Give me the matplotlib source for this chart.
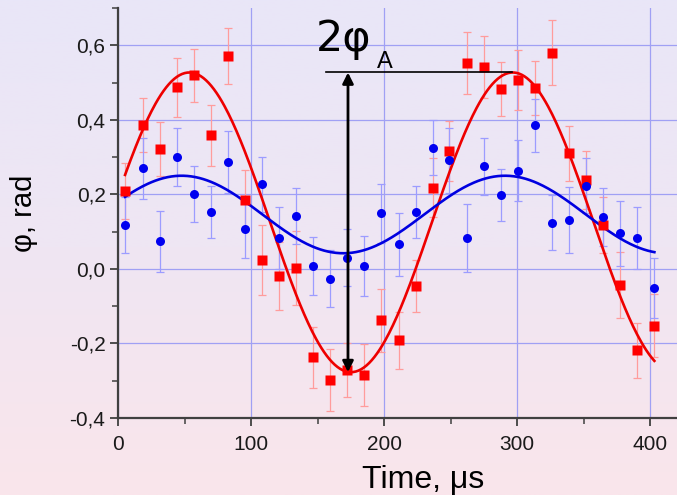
import numpy as np
import matplotlib
matplotlib.use("Agg")
import matplotlib.pyplot as plt
from matplotlib.ticker import FuncFormatter, MultipleLocator
from matplotlib.colors import LinearSegmentedColormap

plt.rcParams['font.family'] = ['Liberation Sans', 'DejaVu Sans']

# ---- data ----
time_us = [5.3, 18.8, 31.6, 44.3, 57.3, 69.9, 82.6, 95.4, 108.4, 121.2, 134.0,
           146.8, 159.5, 172.0, 185.0, 197.8, 211.0, 223.6, 236.4, 249.0, 262.0,
           275.0, 287.8, 300.5, 313.3, 325.8, 338.8, 351.8, 364.4, 377.2, 389.9, 402.7]

red_phi = [0.209, 0.386, 0.321, 0.487, 0.519, 0.358, 0.572, 0.185, 0.024, -0.019,
           0.002, -0.237, -0.299, -0.272, -0.284, -0.138, -0.192, -0.046, 0.218, 0.316,
           0.552, 0.541, 0.482, 0.506, 0.485, 0.580, 0.310, 0.239, 0.118, -0.043,
           -0.218, -0.152]
red_err = [0.075, 0.073, 0.073, 0.079, 0.071, 0.082, 0.075, 0.080, 0.093, 0.092,
           0.100, 0.082, 0.083, 0.072, 0.083, 0.085, 0.076, 0.070, 0.080, 0.080,
           0.083, 0.083, 0.073, 0.080, 0.073, 0.087, 0.074, 0.077, 0.075, 0.088,
           0.074, 0.084]

blue_phi = [0.118, 0.270, 0.074, 0.300, 0.200, 0.152, 0.288, 0.108, 0.227, 0.083,
            0.143, 0.007, -0.026, 0.030, 0.007, 0.149, 0.066, 0.153, 0.325, 0.291,
            0.083, 0.275, 0.199, 0.264, 0.386, 0.124, 0.131, 0.223, 0.139, 0.095,
            0.084, -0.052]
blue_err = [0.075, 0.082, 0.082, 0.077, 0.075, 0.070, 0.083, 0.080, 0.073, 0.084,
            0.075, 0.078, 0.076, 0.076, 0.080, 0.080, 0.084, 0.070, 0.074, 0.086,
            0.092, 0.076, 0.070, 0.081, 0.071, 0.074, 0.089, 0.074, 0.077, 0.086,
            0.083, 0.080]

# sinusoidal fit parameters (offset, amplitude, period, time of maximum)
red_fit = dict(offset=0.125, amp=0.402, period=243.0, t_max=53.6)
blue_fit = dict(offset=0.146, amp=0.104, period=243.0, t_max=47.8)
fit_range = (5.3, 403.0)

x_ticks = [0, 100, 200, 300, 400]
y_ticks = [-0.4, -0.2, 0.0, 0.2, 0.4, 0.6]

# arrow marking 2*phi_A
arrow_x = 172.8
arrow_top = 0.527
arrow_bottom = -0.277
hline_x = (156.3, 296.0)


def fit_curve(p, t):
    return p['offset'] + p['amp'] * np.cos(2 * np.pi * (t - p['t_max']) / p['period'])


W, H = 677, 495
fig = plt.figure(figsize=(W / 100, H / 100), dpi=100)

# background gradient (lavender top -> pink bottom)
bg = fig.add_axes([0, 0, 1, 1], zorder=-10)
cmap = LinearSegmentedColormap.from_list('bg', ['#FAE5EB', '#EFE6F3', '#E9E6F8'])
bg.imshow(np.linspace(0, 1, 256).reshape(-1, 1), aspect='auto', cmap=cmap,
          origin='lower', extent=[0, 1, 0, 1])
bg.set_axis_off()

ax = fig.add_axes([118 / W, (H - 418) / H, (W - 118) / W, (418 - 8) / H])
ax.set_facecolor('none')
ax.set_xlim(0, 420)
ax.set_ylim(-0.4, 0.7)

ax.xaxis.set_major_locator(MultipleLocator(100))
ax.xaxis.set_minor_locator(MultipleLocator(50))
ax.yaxis.set_major_locator(MultipleLocator(0.2))
ax.yaxis.set_minor_locator(MultipleLocator(0.1))
ax.set_xticks(x_ticks)
ax.set_yticks(y_ticks)
ax.yaxis.set_major_formatter(FuncFormatter(lambda v, p: f"{v:.1f}".replace('.', ',')))
ax.xaxis.set_major_formatter(FuncFormatter(lambda v, p: f"{v:.0f}"))

ax.grid(True, which='major', color='#A0A0F4', lw=0.9, zorder=0)
for s in ['top', 'right']:
    ax.spines[s].set_visible(False)
for s in ['left', 'bottom']:
    ax.spines[s].set_color('#404040')
    ax.spines[s].set_linewidth(1.6)
ax.tick_params(which='major', direction='out', length=6, width=1.3, color='#404040',
               labelsize=15, labelcolor='#1a1a1a')
ax.tick_params(which='minor', direction='out', length=4, width=1.1, color='#404040')
ax.tick_params(axis='y', pad=3)
ax.tick_params(axis='x', pad=6)

# error bars
ax.errorbar(time_us, red_phi, yerr=red_err, fmt='none', ecolor='#FF9C9C',
            elinewidth=0.9, capsize=3, capthick=0.9, zorder=2)
ax.errorbar(time_us, blue_phi, yerr=blue_err, fmt='none', ecolor='#9C9CFF',
            elinewidth=0.9, capsize=3, capthick=0.9, zorder=2)

# fitted curves
t = np.linspace(fit_range[0], fit_range[1], 400)
ax.plot(t, fit_curve(red_fit, t), color='#EE0000', lw=1.9, zorder=3)
ax.plot(t, fit_curve(blue_fit, t), color='#0000E0', lw=1.9, zorder=3)

# markers
ax.plot(time_us, red_phi, 's', color='#FF0000', ms=6.5, mec='none', zorder=4)
ax.plot(time_us, blue_phi, 'o', color='#0000F0', ms=6.5, mec='none', zorder=4)

# 2*phi_A annotation
ax.plot(hline_x, [arrow_top, arrow_top], color='black', lw=1.2, zorder=5)
ax.annotate('', xy=(arrow_x, arrow_bottom), xytext=(arrow_x, arrow_top),
            arrowprops=dict(arrowstyle='<|-|>', color='black', lw=2.0,
                            mutation_scale=16, shrinkA=0, shrinkB=0), zorder=6)
ax.text(148.8, 0.584, '2φ', fontsize=31, family=['DejaVu Sans'], color='black',
        ha='left', va='baseline', zorder=6)
ax.text(194.5, 0.539, 'A', fontsize=17, color='black', ha='left', va='baseline', zorder=6)

# axis labels
fig.text(24 / W, 1 - 213 / H, 'φ, rad', rotation=90, fontsize=21, ha='center', va='center')
fig.text(423 / W, 1 - 488 / H, 'Time, μs', fontsize=23, ha='center', va='baseline')

fig.savefig('out.png', dpi=100, facecolor=fig.get_facecolor())
